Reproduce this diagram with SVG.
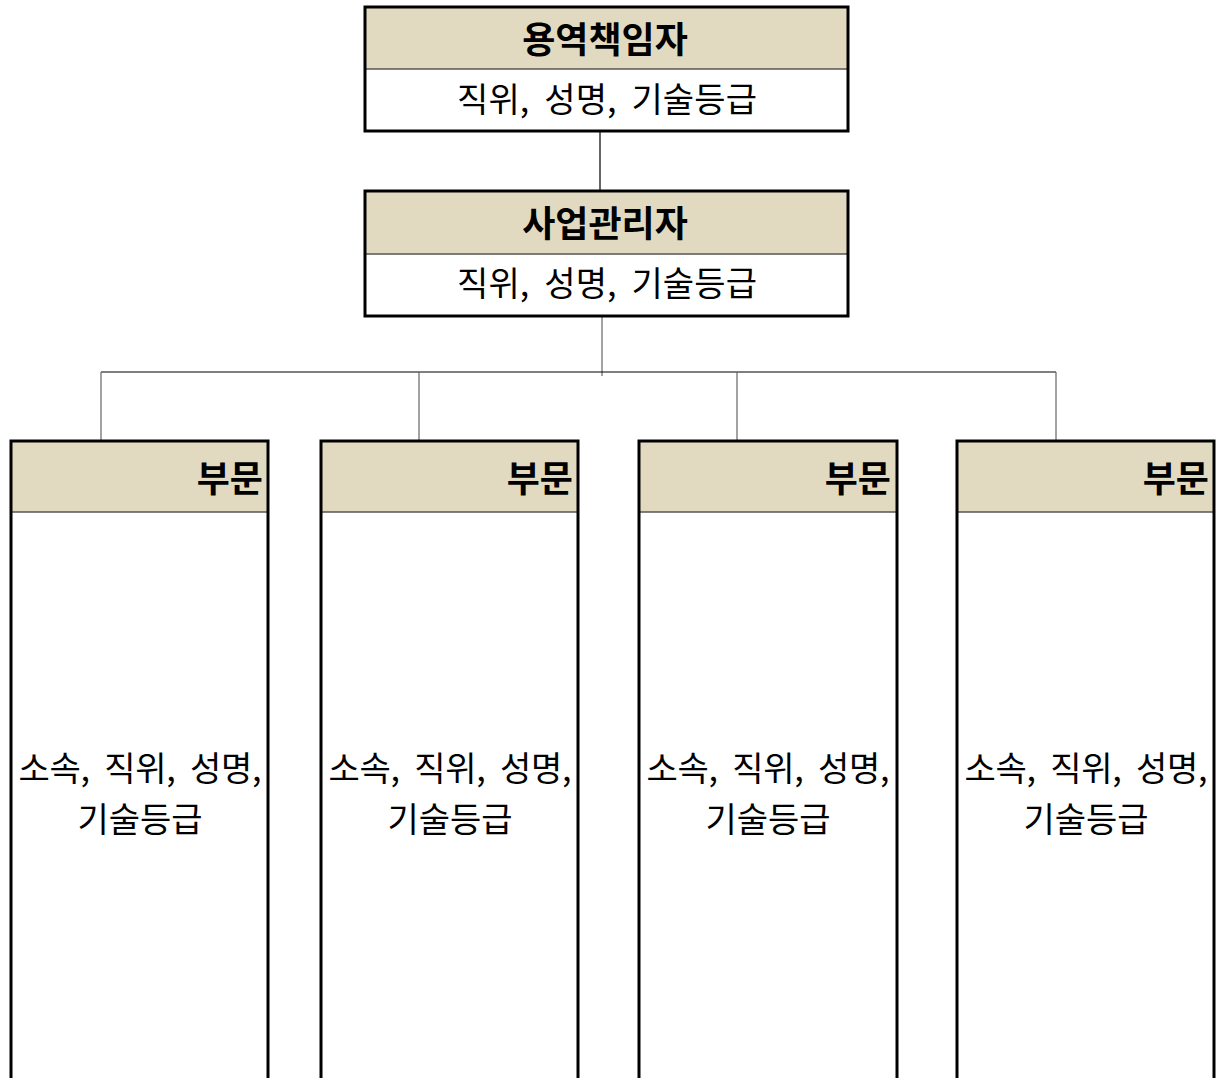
<svg xmlns="http://www.w3.org/2000/svg" width="1216" height="1078" viewBox="0 0 1216 1078">
<style>
.hdr{fill:#E2DAC0;stroke:none}
.box{fill:none;stroke:#000;stroke-width:3}
.div{stroke:#555;stroke-width:1.5}
.body{fill:#fff}
.t{font-family:"Noto Sans CJK KR","Noto Sans",sans-serif;fill:#000}
.b{font-weight:bold;font-size:36px}
.n{font-size:34px}
.w{word-spacing:7px}
.c{stroke:#000;stroke-width:1.2;fill:none}
.cg{stroke:#666;stroke-width:1.2;fill:none}
</style>
<rect width="1216" height="1078" fill="#fff"/>
<g id="connectors">
<line class="c" x1="600" y1="131" x2="600" y2="192"/>
<line class="cg" x1="602" y1="316" x2="602" y2="376"/>
<line class="c" x1="101" y1="372" x2="1056" y2="372"/>
<line class="cg" x1="101" y1="372" x2="101" y2="441"/>
<line class="cg" x1="419" y1="372" x2="419" y2="441"/>
<line class="cg" x1="737" y1="372" x2="737" y2="441"/>
<line class="cg" x1="1056" y1="372" x2="1056" y2="441"/>
</g>
<g id="node-top">
<rect class="body" x="365" y="7" width="483" height="124"/>
<rect class="hdr" x="365" y="7" width="483" height="62"/>
<line class="div" x1="365" y1="69" x2="848" y2="69"/>
<rect class="box" x="365" y="7" width="483" height="124"/>
<text class="t b" x="605" y="53" text-anchor="middle">용역책임자</text>
<text class="t n w" x="607" y="112" text-anchor="middle" textLength="300" lengthAdjust="spacing">직위, 성명, 기술등급</text>
</g>
<g id="node-manager">
<rect class="body" x="365" y="191" width="483" height="125"/>
<rect class="hdr" x="365" y="191" width="483" height="63"/>
<line class="div" x1="365" y1="254" x2="848" y2="254"/>
<rect class="box" x="365" y="191" width="483" height="125"/>
<text class="t b" x="605" y="237" text-anchor="middle">사업관리자</text>
<text class="t n w" x="607" y="296" text-anchor="middle" textLength="300" lengthAdjust="spacing">직위, 성명, 기술등급</text>
</g>
<g id="node-dept1">
<rect class="hdr" x="11" y="441" width="257" height="71"/>
<line class="div" x1="11" y1="512" x2="268" y2="512"/>
<rect class="box" x="11" y="441" width="257" height="660"/>
<text class="t b" x="263" y="492" text-anchor="end">부문</text>
<text class="t n w" x="140" y="781" text-anchor="middle" textLength="243" lengthAdjust="spacing">소속, 직위, 성명,</text>
<text class="t n" x="140" y="832" text-anchor="middle">기술등급</text>
</g>
<g id="node-dept2">
<rect class="hdr" x="321" y="441" width="257" height="71"/>
<line class="div" x1="321" y1="512" x2="578" y2="512"/>
<rect class="box" x="321" y="441" width="257" height="660"/>
<text class="t b" x="573" y="492" text-anchor="end">부문</text>
<text class="t n w" x="450" y="781" text-anchor="middle" textLength="243" lengthAdjust="spacing">소속, 직위, 성명,</text>
<text class="t n" x="450" y="832" text-anchor="middle">기술등급</text>
</g>
<g id="node-dept3">
<rect class="hdr" x="639" y="441" width="258" height="71"/>
<line class="div" x1="639" y1="512" x2="897" y2="512"/>
<rect class="box" x="639" y="441" width="258" height="660"/>
<text class="t b" x="891" y="492" text-anchor="end">부문</text>
<text class="t n w" x="768" y="781" text-anchor="middle" textLength="243" lengthAdjust="spacing">소속, 직위, 성명,</text>
<text class="t n" x="768" y="832" text-anchor="middle">기술등급</text>
</g>
<g id="node-dept4">
<rect class="hdr" x="957" y="441" width="257" height="71"/>
<line class="div" x1="957" y1="512" x2="1214" y2="512"/>
<rect class="box" x="957" y="441" width="257" height="660"/>
<text class="t b" x="1209" y="492" text-anchor="end">부문</text>
<text class="t n w" x="1086" y="781" text-anchor="middle" textLength="243" lengthAdjust="spacing">소속, 직위, 성명,</text>
<text class="t n" x="1086" y="832" text-anchor="middle">기술등급</text>
</g>
</svg>
